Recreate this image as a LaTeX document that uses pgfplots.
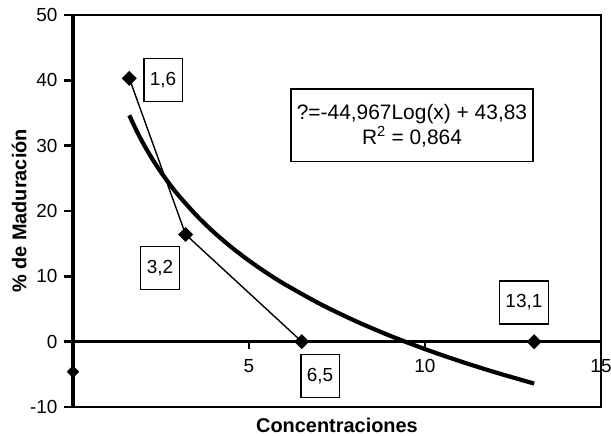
\documentclass[border=0pt]{standalone}
\usepackage{pgfplots}
\pgfplotsset{compat=1.18}
\usepackage{fontspec}
\setmainfont{Liberation Sans}
\usetikzlibrary{calc}
\begin{document}
\begin{tikzpicture}
\begin{axis}[
  name=ax,
  scale only axis, width=528bp, height=392bp,
  xmin=0, xmax=15, ymin=-10, ymax=50,
  axis x line=middle, axis y line=left,
  axis line style={-},
  x axis line style={line width=3.4bp},
  xtick={5,10,15}, ytick={-10,0,10,20,30,40,50},
  major tick length=0pt,
  ticklabel style={font=\fontsize{19}{22}\selectfont},
  /pgf/number format/assume math mode=true,
  xticklabel style={anchor=north, yshift=-14bp},
  yticklabel style={anchor=east, xshift=-12bp},
  xlabel={Concentraciones},
  ylabel={\% de Maduración},
  every axis x label/.style={at={(axis description cs:0.5,-0.02)}, anchor=north, font=\fontsize{20}{24}\selectfont\bfseries},
  every axis y label/.style={at={(axis description cs:-0.0814,0.5)}, rotate=90, anchor=south, font=\fontsize{20}{24}\selectfont\bfseries},
  clip=false,
]
\draw[line width=2bp] (rel axis cs:0,0) rectangle (rel axis cs:1,1);
\draw[line width=3.4bp] (rel axis cs:0,0) -- (rel axis cs:0,1);
\pgfplotsinvokeforeach{-10,0,10,20,30,40,50}{\draw[line width=2.6bp] (axis cs:0,#1) -- ++(-9bp,0bp);}
\pgfplotsinvokeforeach{5,10,15}{\draw[line width=2.6bp] (axis cs:#1,0) -- ++(0bp,-7bp);}
% trend line (logarithmic fit values)
\addplot[black, line width=4.2bp, smooth] coordinates {
 (1.6,34.65) (1.8,32.35) (2,30.29) (2.25,27.99) (2.5,25.94) (2.75,24.07)
 (3,22.38) (3.5,19.37) (4,16.76) (4.5,14.46) (5,12.40) (5.5,10.54)
 (6,8.84) (7,5.83) (8,3.22) (9,0.92) (10,-1.14) (11,-3.00) (12,-4.70) (13.1,-6.41)
};
% data
\addplot[black, line width=1.4bp, mark=square*, mark size=4.6bp, mark options={rotate=45, solid}] coordinates {
 (1.6,40.3) (3.2,16.4) (6.5,0) (13.1,0)
};
\addplot[black, only marks, mark=square*, mark size=4.2bp, mark options={rotate=45}] coordinates {(0,-4.6)};
\tikzset{lbl/.style={draw, line width=1.2bp, fill=white, font=\fontsize{19}{22}\selectfont, minimum height=43bp, inner xsep=6bp}}
\node[lbl] at (axis cs:2.56,40.0) {1,6};
\node[lbl] at (axis cs:2.47,11.3) {3,2};
\node[lbl] at (axis cs:7.02,-5.2) {6,5};
\node[lbl] at (axis cs:12.81,6.0) {13,1};
\node[draw, line width=1.4bp, fill=white, align=center, font=\fontsize{21}{25}\selectfont, inner xsep=6bp, inner ysep=15bp] at (axis cs:9.63,33.1) {?=-44,967Log(x) + 43,83\\R\textsuperscript{2} = 0,864};
\end{axis}
\pgfresetboundingbox
\path[use as bounding box] ($(ax.south west)+(-73bp,-29bp)$) rectangle ($(ax.north east)+(10bp,15bp)$);
\end{tikzpicture}
\end{document}
